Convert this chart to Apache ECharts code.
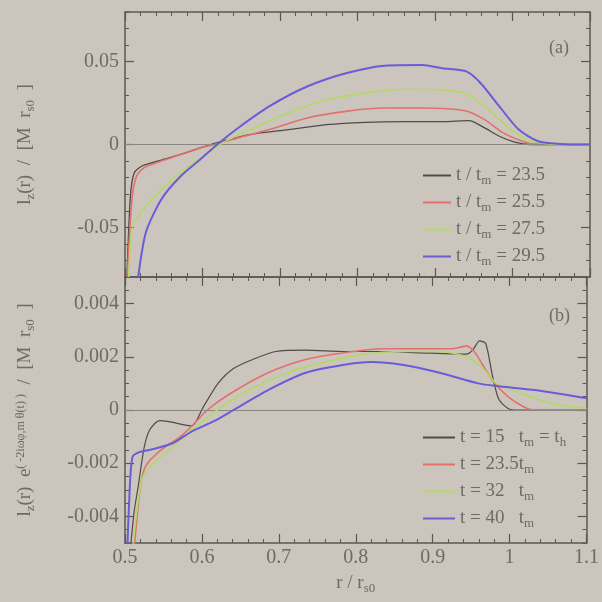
<!DOCTYPE html>
<html>
<head>
<meta charset="utf-8">
<script src="https://cdn.jsdelivr.net/npm/echarts@6/dist/echarts.min.js"></script>
<style>
  html, body { margin: 0; padding: 0; background: #cbc5bd; }
  #chart { width: 602px; height: 602px; }
</style>
</head>
<body>
<div id="chart"></div>
<script>
// panel (a): l_z(r) at t / t_m = 23.5 .. 29.5, points are [r / r_s0, value]
const a235 = [[0.5025,-0.08],[0.507,-0.031],[0.512,-0.017],[0.522,-0.013],[0.547,-0.0094],[0.572,-0.006],[0.597,-0.002],[0.626,0.002],[0.661,0.006],[0.711,0.009],[0.76,0.012],[0.81,0.0134],[0.86,0.0138],[0.91,0.0138],[0.944,0.0144],[0.964,0.01],[0.983,0.005],[1.003,0.0014],[1.023,0],[1.1,0]];
const a255 = [[0.503,-0.08],[0.509,-0.033],[0.515,-0.019],[0.525,-0.014],[0.547,-0.01],[0.572,-0.006],[0.597,-0.002],[0.621,0.0006],[0.646,0.004],[0.686,0.009],[0.735,0.016],[0.785,0.02],[0.835,0.022],[0.884,0.022],[0.939,0.0204],[0.964,0.015],[0.988,0.007],[1.013,0.002],[1.033,0],[1.1,0]];
const a275 = [[0.505,-0.08],[0.51,-0.049],[0.527,-0.037],[0.552,-0.025],[0.577,-0.015],[0.607,-0.005],[0.626,0.001],[0.661,0.009],[0.711,0.019],[0.76,0.027],[0.81,0.031],[0.86,0.0334],[0.909,0.033],[0.939,0.031],[0.964,0.023],[0.993,0.011],[1.018,0.003],[1.043,0.0006],[1.06,0],[1.1,0]];
const a295 = [[0.517,-0.08],[0.527,-0.053],[0.547,-0.033],[0.572,-0.019],[0.597,-0.009],[0.619,0],[0.646,0.01],[0.686,0.023],[0.735,0.035],[0.785,0.043],[0.835,0.0476],[0.884,0.048],[0.909,0.046],[0.941,0.044],[0.959,0.037],[0.983,0.023],[1.008,0.009],[1.033,0.002],[1.058,0.0004],[1.075,0],[1.1,0]];

// panel (b): l_z(r) e^(...) at t = 15, 23.5, 32, 40 t_m
const b15 = [[0.507,-0.0052],[0.512,-0.0038],[0.517,-0.0029],[0.525,-0.0014],[0.532,-0.00075],[0.545,-0.0004],[0.557,-0.00044],[0.577,-0.00056],[0.587,-0.0006],[0.602,0.000125],[0.621,0.001],[0.641,0.00156],[0.666,0.0019],[0.696,0.0022],[0.735,0.00225],[0.785,0.0022],[0.835,0.0022],[0.884,0.00215],[0.944,0.0021],[0.952,0.00225],[0.961,0.0026],[0.969,0.0025],[0.978,0.00125],[0.986,0.0004],[0.998,0.00006],[1.01,0],[1.1,0]];
const b235 = [[0.512,-0.0052],[0.52,-0.0029],[0.527,-0.0021],[0.547,-0.0015],[0.572,-0.001],[0.587,-0.0006],[0.607,0],[0.636,0.0006],[0.686,0.0014],[0.735,0.0019],[0.785,0.00215],[0.835,0.0023],[0.884,0.0023],[0.924,0.0023],[0.944,0.0024],[0.954,0.0022],[0.964,0.00175],[0.978,0.0011],[0.998,0.0005],[1.018,0.000125],[1.033,0],[1.1,0]];
const b32 = [[0.51,-0.0052],[0.522,-0.0026],[0.537,-0.002],[0.562,-0.0014],[0.587,-0.00075],[0.617,-0.00006],[0.661,0.00075],[0.711,0.0014],[0.76,0.0018],[0.81,0.0021],[0.86,0.0022],[0.909,0.0022],[0.944,0.002],[0.964,0.0016],[0.983,0.001],[1.008,0.0007],[1.033,0.00044],[1.058,0.00022],[1.1,0.00006]];
const b40 = [[0.503,-0.0052],[0.507,-0.0025],[0.51,-0.00175],[0.517,-0.0016],[0.532,-0.0015],[0.562,-0.00125],[0.587,-0.0008],[0.617,-0.0004],[0.641,0],[0.686,0.00075],[0.735,0.0014],[0.785,0.0017],[0.82,0.0018],[0.86,0.0017],[0.909,0.0014],[0.959,0.001],[0.983,0.0009],[1.033,0.00075],[1.1,0.00044]];

// axis ticks
const xTicks = [0.5, 0.6, 0.7, 0.8, 0.9, 1.0, 1.1];
const aTicks = [-0.05, 0, 0.05];
const bTicks = [-0.004, -0.002, 0, 0.002, 0.004];

const legendA = {
  a1: '{t|t / t}{s|m}{t| = 23.5}',
  a2: '{t|t / t}{s|m}{t| = 25.5}',
  a3: '{t|t / t}{s|m}{t| = 27.5}',
  a4: '{t|t / t}{s|m}{t| = 29.5}'
};
const legendB = {
  b1: '{t|t = 15   t}{s|m}{t| = t}{s|h}',
  b2: '{t|t = 23.5t}{s|m}',
  b3: '{t|t = 32   t}{s|m}',
  b4: '{t|t = 40   t}{s|m}'
};

const FONT = '"Liberation Serif", "Times New Roman", serif';
const TXT = '#6e6a66';
const AXC = '#5a5856';
const colors = ['#4e4c4a', '#e2706c', '#b4d866', '#6a5cd6'];

const rich = {
  t: { fontFamily: FONT, fontSize: 19, color: TXT },
  s: { fontFamily: FONT, fontSize: 13, color: TXT, padding: [10, 0, 0, 0] },
  p: { fontFamily: FONT, fontSize: 12, color: TXT, padding: [0, 0, 10, 0] }
};

function xAxes(grid, pos, showLabels) {
  return {
    type: 'value', gridIndex: grid, position: pos,
    min: 0.5, max: 1.1, interval: 0.1,
    axisLine: { show: true, onZero: false, lineStyle: { color: AXC, width: 1.5 } },
    axisTick: { show: true, inside: true, length: 9, lineStyle: { color: AXC, width: 1.2 } },
    minorTick: { show: true, splitNumber: 5, length: 4, lineStyle: { color: AXC } },
    axisLabel: { show: showLabels, fontFamily: FONT, fontSize: 20, color: TXT, margin: 5 },
    splitLine: { show: false },
    name: showLabels ? '{t|r / r}{s|s0}' : '',
    nameLocation: 'middle', nameGap: 29,
    nameTextStyle: { rich: rich }
  };
}

function yAxes(grid, pos, min, max, step, ticks, labels, name) {
  return [{
    type: 'value', gridIndex: grid, position: pos,
    min: min, max: max, interval: step,
    axisLine: { show: true, onZero: false, lineStyle: { color: AXC, width: 1.5 } },
    axisTick: { show: true, inside: true, length: 4, lineStyle: { color: AXC } },
    axisLabel: { show: labels, customValues: ticks, fontFamily: FONT, fontSize: 20, color: TXT, margin: 6 },
    splitLine: { show: false },
    name: name || '', nameLocation: 'middle', nameGap: 88, nameRotate: 90,
    nameTextStyle: { rich: rich }
  }, {
    type: 'value', gridIndex: grid, position: pos,
    min: min, max: max, interval: step,
    axisLine: { show: false },
    axisTick: { show: true, inside: true, length: 9, customValues: ticks, lineStyle: { color: AXC, width: 1.2 } },
    axisLabel: { show: false },
    splitLine: { show: false }
  }];
}

function line(name, data, i, x, y, width, zero) {
  const s = {
    name: name, type: 'line', data: data,
    xAxisIndex: x, yAxisIndex: y,
    showSymbol: false, symbol: 'none', smooth: 0.25,
    lineStyle: { color: colors[i], width: width },
    itemStyle: { color: colors[i] },
    z: 3 + i
  };
  if (zero) {
    s.markLine = {
      silent: true, symbol: 'none', label: { show: false },
      lineStyle: { color: '#8a8682', width: 1, type: 'solid' },
      data: [{ yAxis: 0 }]
    };
  }
  return s;
}

const chart = echarts.init(document.getElementById('chart'));

chart.setOption({
  backgroundColor: '#cbc5bd',
  animation: false,
  grid: [
    { left: 125, top: 12, width: 465, height: 265 },
    { left: 125, top: 277, width: 465, height: 266 }
  ],
  title: [
    { text: '(a)', left: 544, top: 34, textStyle: { fontFamily: FONT, fontSize: 18, fontWeight: 'normal', color: TXT } },
    { text: '(b)', left: 544, top: 302, textStyle: { fontFamily: FONT, fontSize: 18, fontWeight: 'normal', color: TXT } }
  ],
  legend: [
    {
      data: Object.keys(legendA), orient: 'vertical', left: 418, top: 161,
      icon: 'rect', itemWidth: 28, itemHeight: 2, itemGap: 6,
      formatter: n => legendA[n], textStyle: { rich: rich }
    },
    {
      data: Object.keys(legendB), orient: 'vertical', left: 418, top: 423,
      icon: 'rect', itemWidth: 32, itemHeight: 2, itemGap: 6,
      formatter: n => legendB[n], textStyle: { rich: rich }
    }
  ],
  xAxis: [
    xAxes(0, 'bottom', false), xAxes(0, 'top', false),
    xAxes(1, 'bottom', true), xAxes(1, 'top', false)
  ],
  yAxis: [].concat(
    yAxes(0, 'left', -0.08, 0.08, 0.01, aTicks, true, '{t|l}{s|z}{t|(r)  /  [M  r}{s|s0}{t|  ]}'),
    yAxes(0, 'right', -0.08, 0.08, 0.01, aTicks, false),
    yAxes(1, 'left', -0.005, 0.005, 0.0005, bTicks, true, '{t|l}{s|z}{t|(r)  e}{p|( -2iω}{p|φ,m}{p| θ(t) )}{t|  /  [M  r}{s|s0}{t|  ]}'),
    yAxes(1, 'right', -0.005, 0.005, 0.0005, bTicks, false)
  ),
  series: [
    line('a1', a235, 0, 0, 0, 1.3, true),
    line('a2', a255, 1, 0, 0, 1.6),
    line('a3', a275, 2, 0, 0, 1.6),
    line('a4', a295, 3, 0, 0, 2),
    line('b1', b15, 0, 2, 4, 1.2, true),
    line('b2', b235, 1, 2, 4, 1.6),
    line('b3', b32, 2, 2, 4, 1.6),
    line('b4', b40, 3, 2, 4, 2)
  ]
});
</script>
</body>
</html>
